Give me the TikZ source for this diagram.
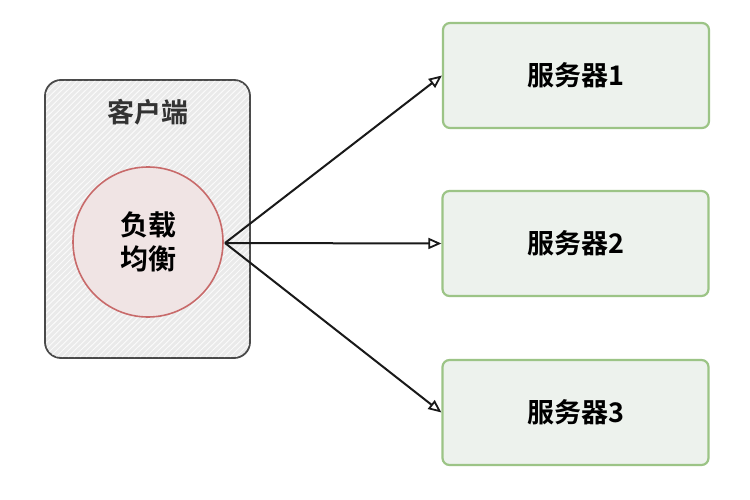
\documentclass[tikz,border=0pt]{standalone}
\usepackage{fontspec}
\newfontfamily\cjk{Noto Sans CJK SC}[BoldFont={Noto Sans CJK SC Bold}]
\usetikzlibrary{arrows.meta}
\definecolor{clientfill}{HTML}{EAEAEA}
\definecolor{clientdraw}{HTML}{4A4A4A}
\definecolor{lbfill}{HTML}{F0E4E4}
\definecolor{lbdraw}{HTML}{C86A6A}
\definecolor{srvfill}{HTML}{EDF2ED}
\definecolor{srvdraw}{HTML}{9CC486}
\tikzset{
  client/.style={draw=clientdraw, fill=clientfill, line width=1.8pt, rounded corners=16pt, minimum width=205pt, minimum height=278pt},
  lb/.style={circle, draw=lbdraw, fill=lbfill, line width=1.6pt, minimum size=150pt, align=center, font=\cjk\bfseries\fontsize{28}{34}\selectfont},
  srv/.style={draw=srvdraw, fill=srvfill, line width=2.2pt, rounded corners=7pt, minimum width=266pt, minimum height=105pt, font=\cjk\bfseries\fontsize{27}{32}\selectfont},
  ttl/.style={font=\cjk\bfseries\fontsize{27}{32}\selectfont, text=black!80},
  conn/.style={draw=black!90, line width=2pt, -{Triangle[open, length=13pt, width=11pt, line width=1.8pt]}}
}
\begin{document}
\begin{tikzpicture}[x=1pt,y=-1pt]
\useasboundingbox[fill=white] (0,0) rectangle (750,500);
\node[client] (client) at (147.5,219) {};
\begin{scope}
\clip[rounded corners=14pt] (46,81) rectangle (249,357);
\foreach \i in {0,6,...,520} {\draw[white, line width=0.9pt, opacity=0.8] (\i-280,357) -- (\i,80);}
\end{scope}
\node[ttl] (title) at (148,112) {客户端};
\node[lb] (lb) at (148,242) {负载\\均衡};
\node[srv] (s1) at (576,75.5) {服务器1};
\node[srv] (s2) at (575.5,243.5) {服务器2};
\node[srv] (s3) at (575.5,412.5) {服务器3};
\coordinate (src) at (225,243);
\draw[conn] (src) -- (s1.west);
\draw[conn] (src) -- (s2.west);
\draw[conn] (src) -- (s3.west);
\end{tikzpicture}
\end{document}
